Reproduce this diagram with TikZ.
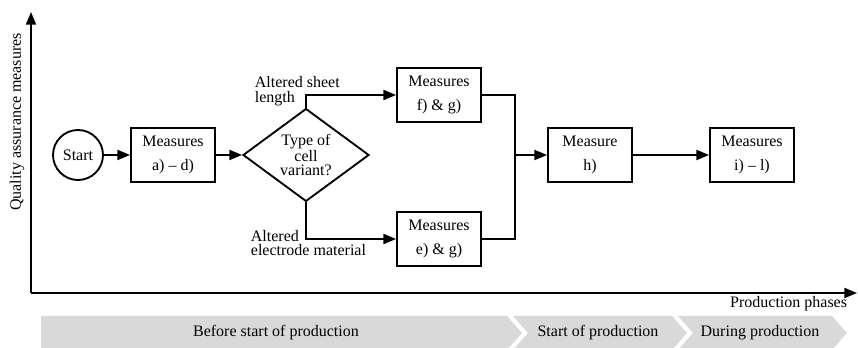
\documentclass[tikz,border=0pt]{standalone}
\usepackage{fontspec}
\setmainfont{Liberation Serif}
\usetikzlibrary{shapes.geometric,arrows.meta,positioning}
\definecolor{phasegray}{RGB}{217,217,217}

\begin{document}
\begin{tikzpicture}[x=0.75pt, y=-0.75pt, line width=1.4pt,
    >={Triangle[length=9.5pt,width=7.5pt]},
    every node/.style={font=\fontsize{12}{14}\selectfont},
    box/.style={draw, minimum width=63pt, minimum height=40.5pt, inner sep=0pt, align=center, font=\fontsize{12}{18}\selectfont},
    decision/.style={draw, diamond, minimum width=94.5pt, minimum height=63pt, inner sep=0pt, align=center, font=\fontsize{12}{10.5}\selectfont},
    lbl/.style={align=left, inner sep=0pt, font=\fontsize{12}{11}\selectfont}]
    \useasboundingbox (0,0) rectangle (858,348);

    % Axes
    \coordinate (origin) at (31,293);
    \coordinate (yend) at (31,12);
    \coordinate (xend) at (857,293);
    \draw[->] (origin) -- (yend);
    \draw[->] (origin) -- (xend);
    \node[rotate=90] (ylab) at (17,122) {Quality assurance measures};
    \node[anchor=east, inner sep=0pt] (xlab) at (848,304) {Production phases};

    % Phases
    \fill[phasegray] (41,316) -- (507,316) -- (522,333) -- (507,350) -- (41,350) -- cycle;
    \fill[phasegray] (513,316) -- (672,316) -- (687,333) -- (672,350) -- (513,350) -- (528,333) -- cycle;
    \fill[phasegray] (678,316) -- (832,316) -- (847,333) -- (832,350) -- (678,350) -- (693,333) -- cycle;
    \node (pbefore) at (276,333) {Before start of production};
    \node (pstart) at (598,333) {Start of production};
    \node (pduring) at (760,333) {During production};

    % Flow
    \node[circle, draw, minimum size=37.5pt, inner sep=0pt] (start) at (78,155) {Start};
    \node[box] (mad) at (173,155) {Measures\\a) -- d)};
    \node[decision] (dec) at (306,155) {Type of\\cell\\variant?};
    \node[box] (mfg) at (439,95) {Measures\\f) \& g)};
    \node[box] (meg) at (439,239) {Measures\\e) \& g)};
    \node[box] (mh) at (590,155) {Measure\\h)};
    \node[box] (mil) at (752,155) {Measures\\i) -- l)};
    \coordinate (join) at (515,155);

    % Branch labels
    \node[lbl, anchor=west] (lsheet) at (254,91) {Altered sheet\\length};
    \node[lbl, anchor=west] (lelec) at (250,243) {Altered\\electrode material};

    % Connectors
    \draw[->] (start) -- (mad);
    \draw[->] (mad) -- (dec);
    \draw[->] (dec.north) |- (mfg);
    \draw[->] (dec.south) |- (meg);
    \draw (mfg) -| (join) |- (meg);
    \draw[->] (join) -- (mh);
    \draw[->] (mh) -- (mil);
\end{tikzpicture}
\end{document}
